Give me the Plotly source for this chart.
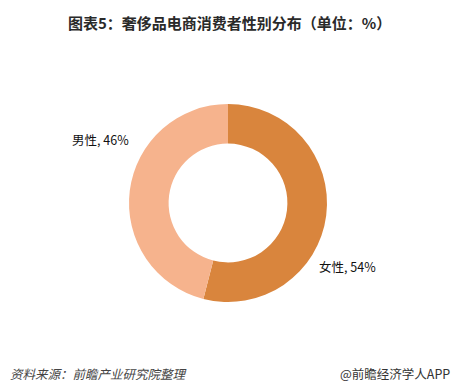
import plotly.graph_objects as go

labels = ["女性", "男性"]
values = [54, 46]
colors = ["#D9853D", "#F6B38D"]
label_texts = ["女性, 54%", "男性, 46%"]
label_pos = [(347, 266), (100, 139)]  # pixel positions of labels

W, H = 461, 390
cx, cy, r = 228, 203, 99

fig = go.Figure(go.Pie(
    labels=labels, values=values, hole=0.6, sort=False, direction="clockwise",
    rotation=0, marker=dict(colors=colors, line=dict(width=0)),
    textinfo="none", hoverinfo="label+value", showlegend=False,
    domain=dict(x=[(cx - r) / W, (cx + r) / W], y=[(H - cy - r) / H, (H - cy + r) / H]),
))

annotations = []
for t, (px, py) in zip(label_texts, label_pos):
    annotations.append(dict(x=px / W, y=1 - py / H, xref="paper", yref="paper",
                            text=t, showarrow=False, xanchor="center", yanchor="middle",
                            font=dict(size=12.5, color="#111", family="Noto Sans CJK SC")))
annotations.append(dict(x=229 / W, y=1 - 22 / H, xref="paper", yref="paper",
                        text="<b>图表5：奢侈品电商消费者性别分布（单位：%）</b>", showarrow=False,
                        xanchor="center", yanchor="middle",
                        font=dict(size=15, color="#2a2a2a", family="Noto Sans CJK SC")))
annotations.append(dict(x=8 / W, y=1 - 373 / H, xref="paper", yref="paper",
                        text="<i>资料来源：前瞻产业研究院整理</i>", showarrow=False,
                        xanchor="left", yanchor="middle",
                        font=dict(size=12.5, color="#444", family="Noto Sans CJK SC")))
annotations.append(dict(x=452 / W, y=1 - 373 / H, xref="paper", yref="paper",
                        text="@前瞻经济学人APP", showarrow=False,
                        xanchor="right", yanchor="middle",
                        font=dict(size=12.5, color="#333", family="Noto Sans CJK SC")))

fig.update_layout(width=W, height=H, margin=dict(l=0, r=0, t=0, b=0),
                  paper_bgcolor="white", plot_bgcolor="white", annotations=annotations)
fig.write_html("out.html", config={"displayModeBar": False},
               post_script="document.body.style.margin='0';document.body.style.overflow='hidden';")
